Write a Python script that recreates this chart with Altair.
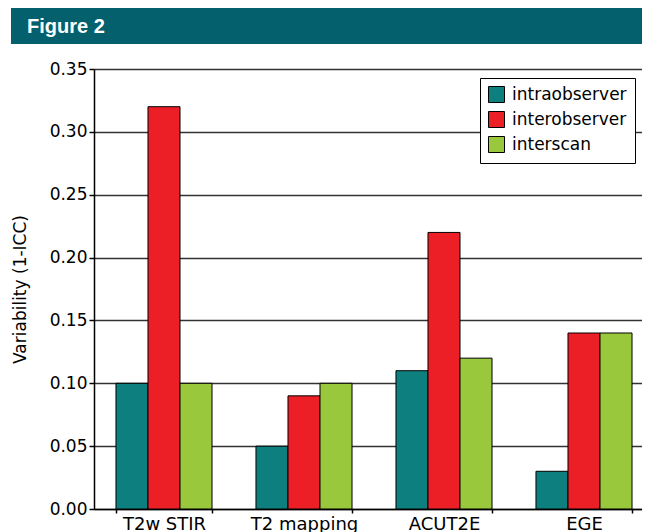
import altair as alt
import pandas as pd

# ---- data ----
categories = ["T2w STIR", "T2 mapping", "ACUT2E", "EGE"]
series = ["intraobserver", "interobserver", "interscan"]
intraobserver = [0.10, 0.05, 0.11, 0.03]
interobserver = [0.32, 0.09, 0.22, 0.14]
interscan = [0.10, 0.10, 0.12, 0.14]
series_colors = ["#0e7f7f", "#ec1f27", "#99c83d"]
y_ticks = [0.0, 0.05, 0.10, 0.15, 0.20, 0.25, 0.30, 0.35]
header_text = ["Figure 2"]
y_title = "Variability (1-ICC)"

FONT = "DejaVu Sans"
HEADER_COLOR = "#03606c"

rows = []
for name, vals in zip(series, [intraobserver, interobserver, interscan]):
    for c, v in zip(categories, vals):
        rows.append({"category": c, "series": name, "value": v})
df = pd.DataFrame(rows)
hdr = pd.DataFrame({"t": header_text})

# decorative banner above the plot (outside the plot area)
banner = alt.Chart(hdr).mark_rect(color=HEADER_COLOR).encode(
    x=alt.value(-83), x2=alt.value(600), y=alt.value(-61), y2=alt.value(-25)
)
banner_text = alt.Chart(hdr).mark_text(
    align="left", baseline="alphabetic", font="Liberation Sans",
    fontWeight="bold", fontSize=20, color="white"
).encode(text="t:N", x=alt.value(-67), y=alt.value(-36))

bars = alt.Chart(df).mark_bar(stroke="black", strokeWidth=1).encode(
    x=alt.X("category:N", sort=categories, title=None,
            scale=alt.Scale(paddingInner=0.314, paddingOuter=0.157,
                            range=[0, 560]),
            axis=alt.Axis(labelAngle=0, tickBand="extent", labelFontSize=18,
                          labelFont=FONT, labelColor="black",
                          domainColor="black", domainWidth=1.5,
                          tickColor="black", tickSize=4, tickWidth=1.5,
                          labelPadding=2, grid=False)),
    xOffset=alt.XOffset("series:N", sort=series),
    y=alt.Y("value:Q", title=y_title,
            scale=alt.Scale(domain=[0, 0.35], nice=False),
            axis=alt.Axis(values=y_ticks, format=".2f", labelFontSize=17,
                          labelFont=FONT, labelColor="black", labelPadding=2,
                          tickSize=5, tickWidth=1.5, tickColor="black",
                          domainColor="black", domainWidth=1.5,
                          gridColor="#333333", gridWidth=1.5,
                          titleFont=FONT, titleFontSize=17,
                          titleFontWeight="normal", titleColor="black",
                          titlePadding=20)),
    color=alt.Color("series:N", sort=series,
                    scale=alt.Scale(domain=series, range=series_colors),
                    legend=alt.Legend(title=None, orient="none", legendX=386,
                                      legendY=9, fillColor="white",
                                      strokeColor="black", padding=8,
                                      rowPadding=4, symbolType="square",
                                      symbolSize=256, symbolStrokeColor="black",
                                      symbolStrokeWidth=1, symbolOpacity=1,
                                      labelFontSize=17, labelFont=FONT,
                                      labelOffset=7, labelColor="black")),
)

chart = alt.layer(banner, banner_text, bars).properties(
    width=548, height=440,
    autosize=alt.AutoSizeParams(type="none"),
    padding={"left": 86, "top": 61, "right": 0, "bottom": 40},
).configure_view(strokeWidth=0)

chart.save("out.html", embed_options={"renderer": "svg", "actions": False})
